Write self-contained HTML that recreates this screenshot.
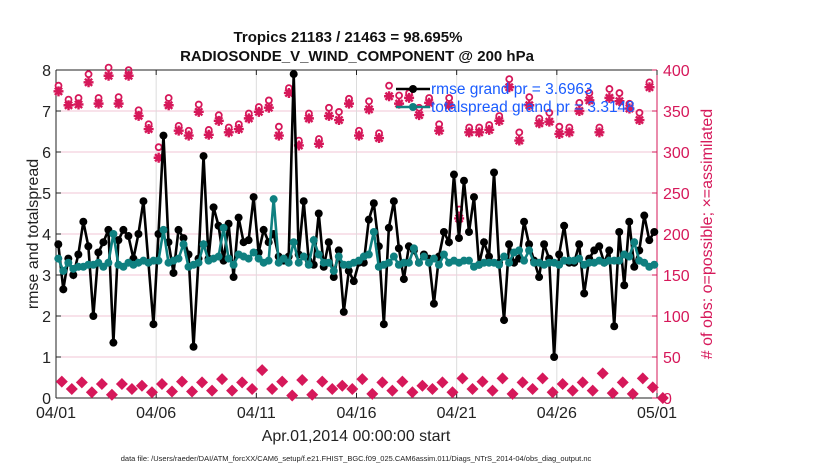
<!DOCTYPE html>
<html><head><meta charset="utf-8"><style>
body{margin:0;background:#fff;}
svg{display:block;font-family:"Liberation Sans",sans-serif;}
</style></head><body>
<svg id="chart" width="830" height="470" xmlns="http://www.w3.org/2000/svg"></svg>
<script>
const rmse=[3.75,2.65,3.4,3.0,3.5,4.3,3.7,2.0,3.55,3.8,4.1,1.35,3.85,4.1,3.95,3.4,4.0,4.8,3.3,1.8,4.0,6.4,3.8,3.05,4.1,3.9,3.5,1.25,3.4,5.9,3.4,4.65,4.2,3.35,4.25,2.95,4.4,3.8,
3.85,4.9,3.55,4.1,3.8,4.0,3.45,3.35,3.45,7.9,3.5,4.8,3.35,3.25,4.5,3.2,3.8,2.95,3.6,2.1,3.1,2.85,3.3,3.3,4.35,4.75,3.7,1.8,4.15,4.8,3.65,2.9,3.7,3.6,3.3,3.5,3.4,2.3,3.45,4.05,3.8,
5.45,3.9,5.3,4.05,4.9,3.25,3.8,3.45,5.5,3.3,1.9,3.75,3.3,3.4,4.3,3.75,3.35,2.95,3.75,3.4,1.0,3.5,4.2,3.3,3.3,3.75,2.55,3.4,3.6,3.7,3.3,3.6,1.75,4.05,2.75,4.3,3.2,3.6,4.45,3.85,4.05];
const spread=[3.4,3.1,3.3,3.15,3.2,3.2,3.25,3.25,3.3,3.2,3.3,4.0,3.25,3.2,3.3,3.25,3.3,3.35,3.3,3.35,3.35,4.1,3.3,3.35,3.4,3.75,3.2,3.25,3.3,3.75,3.35,3.4,3.45,4.15,3.4,3.25,3.5,3.45,
3.4,3.55,3.4,3.3,3.35,4.85,3.3,3.4,3.3,3.8,3.3,3.45,3.25,3.85,3.5,3.3,3.3,3.1,3.45,3.25,3.25,3.3,3.35,3.45,3.5,4.05,3.2,3.25,3.3,3.45,3.25,3.3,3.3,3.65,3.3,3.45,3.3,3.4,3.25,3.5,3.3,
3.35,3.3,3.35,3.35,3.2,3.25,3.3,3.3,3.3,3.25,3.45,3.3,3.55,3.6,3.35,3.6,3.3,3.3,3.25,3.3,3.3,3.25,3.35,3.35,3.35,3.4,3.25,3.3,3.3,3.35,3.3,3.35,3.35,3.35,3.5,3.45,3.8,3.35,3.3,3.2,3.25];
const assimilated=[374,357,358,385,359,393,359,393,344,328,293,357,326,320,349,321,338,324,328,341,
349,354,320,372,308,341,310,344,339,359,320,352,317,368,359,366,345,360,326,357,
219,324,324,327,338,379,314,357,335,337,322,324,350,363,324,366,362,353,339,379];
const possible=[376,359,361,390,361,398,362,395,346,329,301,361,327,321,353,322,340,325,329,342,
350,358,326,373,309,342,311,349,344,360,321,357,318,376,364,367,349,361,329,361,
225,325,325,328,339,384,319,362,336,343,326,325,355,367,325,372,367,354,343,380];
const rejected=[20,11,19,7,17,4,17,11,15,7,17,8,20,8,19,9,23,9,19,
11,34,11,20,3,22,4,20,11,15,11,23,5,19,9,20,7,15,11,19,
7,24,11,20,9,24,5,19,11,24,7,17,9,19,9,30,6,19,5,24,13,0];
const xTickLabels=["04/01","04/06","04/11","04/16","04/21","04/26","05/01"];
const yLeftTicks=[0,1,2,3,4,5,6,7,8];
const yRightTicks=[0,50,100,150,200,250,300,350,400];

const X0=56,X1=657,Y0=398,Y1=70,PINK="#d6185a",TEAL="#0f8080";
const xs=d=>X0+(X1-X0)*d/30;
const yl=v=>Y0-(Y0-Y1)*v/8;
const yr=v=>Y0-(Y0-Y1)*v/400;
const svg=document.getElementById('chart');
const NS="http://www.w3.org/2000/svg";
function el(t,a,p){const e=document.createElementNS(NS,t);for(const k in a)e.setAttribute(k,a[k]);(p||svg).appendChild(e);return e;}
function txt(s,a,p){const e=el('text',a,p);e.textContent=s;return e;}

const grid=el('g',{});


yLeftTicks.forEach(v=>{el('line',{x1:X0,x2:X1,y1:yl(v),y2:yl(v),stroke:"#f2c6d4","stroke-width":1},grid);});
xTickLabels.forEach((l,i)=>{el('line',{x1:xs(i*5),x2:xs(i*5),y1:Y1,y2:Y0,stroke:"#dcdcdc","stroke-width":1},grid);});

const ax=el('g',{});


el('line',{x1:X0,x2:X0,y1:Y1,y2:Y0,stroke:"#222"},ax);
el('line',{x1:X0,x2:X1,y1:Y0,y2:Y0,stroke:"#222"},ax);
el('line',{x1:X0,x2:X1,y1:Y1,y2:Y1,stroke:"#222"},ax);
el('line',{x1:X1,x2:X1,y1:Y1,y2:Y0,stroke:PINK},ax);
yLeftTicks.forEach(v=>{
  el('line',{x1:X0,x2:X0+5,y1:yl(v),y2:yl(v),stroke:"#222"},ax);
  const t=txt(String(v),{x:X0-5,y:yl(v)+6,"text-anchor":"end","font-size":16,fill:"#222"},ax);
  
  
});
yRightTicks.forEach(v=>{
  el('line',{x1:X1-5,x2:X1,y1:yr(v),y2:yr(v),stroke:PINK},ax);
  const t=txt(String(v),{x:X1+6,y:yr(v)+6,"font-size":16,fill:PINK},ax);
  
  
});
xTickLabels.forEach((l,i)=>{
  el('line',{x1:xs(i*5),x2:xs(i*5),y1:Y0-5,y2:Y0,stroke:"#222"},ax);
  el('line',{x1:xs(i*5),x2:xs(i*5),y1:Y1,y2:Y1+5,stroke:"#222"},ax);
  const t=txt(l,{x:xs(i*5),y:Y0+20,"text-anchor":"middle","font-size":16,fill:"#222"},ax);
  
  
});

const obs=el('g',{});


possible.forEach((v,k)=>{el('circle',{cx:xs(0.125+0.5*k),cy:yr(v)-4,r:3,fill:"none",stroke:PINK,"stroke-width":1.8},obs);});
assimilated.forEach((v,k)=>{
  const x=xs(0.125+0.5*k),y=yr(v);
  el('path',{d:`M${x-5},${y}H${x+5}M${x},${y-5}V${y+5}M${x-3.6},${y-3.6}L${x+3.6},${y+3.6}M${x-3.6},${y+3.6}L${x+3.6},${y-3.6}`,stroke:PINK,"stroke-width":2.4},obs);
});
rejected.forEach((v,k)=>{
  const x=xs(0.29+0.5*k),y=yr(v);
  el('path',{d:`M${x},${y-6}L${x+6},${y}L${x},${y+6}L${x-6},${y}Z`,fill:PINK},obs);
});

function series(vals,color,name){
  const g=el('g',{});
  
  
  const pts=vals.map((v,i)=>[xs(0.115+0.25*i),yl(v)]);
  el('polyline',{points:pts.map(p=>p.join(',')).join(' '),fill:"none",stroke:color,"stroke-width":2.6},g);
  pts.forEach(p=>el('circle',{cx:p[0],cy:p[1],r:4,fill:color},g));
}
series(rmse,"#000","rmse-line");
series(spread,TEAL,"totalspread-line");

const lg=el('g',{});


el('line',{x1:396,x2:430,y1:89,y2:89,stroke:"#000","stroke-width":2.6},lg);
el('circle',{cx:413,cy:89,r:4,fill:"#000"},lg);
el('line',{x1:396,x2:430,y1:107,y2:107,stroke:TEAL,"stroke-width":2.6},lg);
el('circle',{cx:413,cy:107,r:4,fill:TEAL},lg);
txt("rmse grand pr = 3.6963",{x:431,y:94,"font-size":15.5,fill:"#1a5cff"},lg);
txt("totalspread grand pr = 3.3148",{x:431,y:112,"font-size":15.5,fill:"#1a5cff"},lg);

const t1=txt("Tropics 21183 / 21463 = 98.695%",{x:348,y:42,"text-anchor":"middle","font-size":15,"font-weight":"bold",fill:"#111"});


const t2=txt("RADIOSONDE_V_WIND_COMPONENT @ 200 hPa",{x:357,y:61,"text-anchor":"middle","font-size":15,"font-weight":"bold",fill:"#111"});


const yt=txt("rmse and totalspread",{x:0,y:0,"text-anchor":"middle","font-size":16,fill:"#222",transform:"translate(38,234) rotate(-90)"});


const yt2=txt("# of obs: o=possible; \u00d7=assimilated",{x:0,y:0,"text-anchor":"middle","font-size":16,fill:PINK,transform:"translate(712,234) rotate(-90)"});


const xt=txt("Apr.01,2014 00:00:00 start",{x:356,y:441,"text-anchor":"middle","font-size":16,fill:"#222"});


const fn=txt("data file: /Users/raeder/DAI/ATM_forcXX/CAM6_setup/f.e21.FHIST_BGC.f09_025.CAM6assim.011/Diags_NTrS_2014-04/obs_diag_output.nc",{x:356,y:461,"text-anchor":"middle","font-size":7.5,fill:"#222"});


</script>
</body></html>
